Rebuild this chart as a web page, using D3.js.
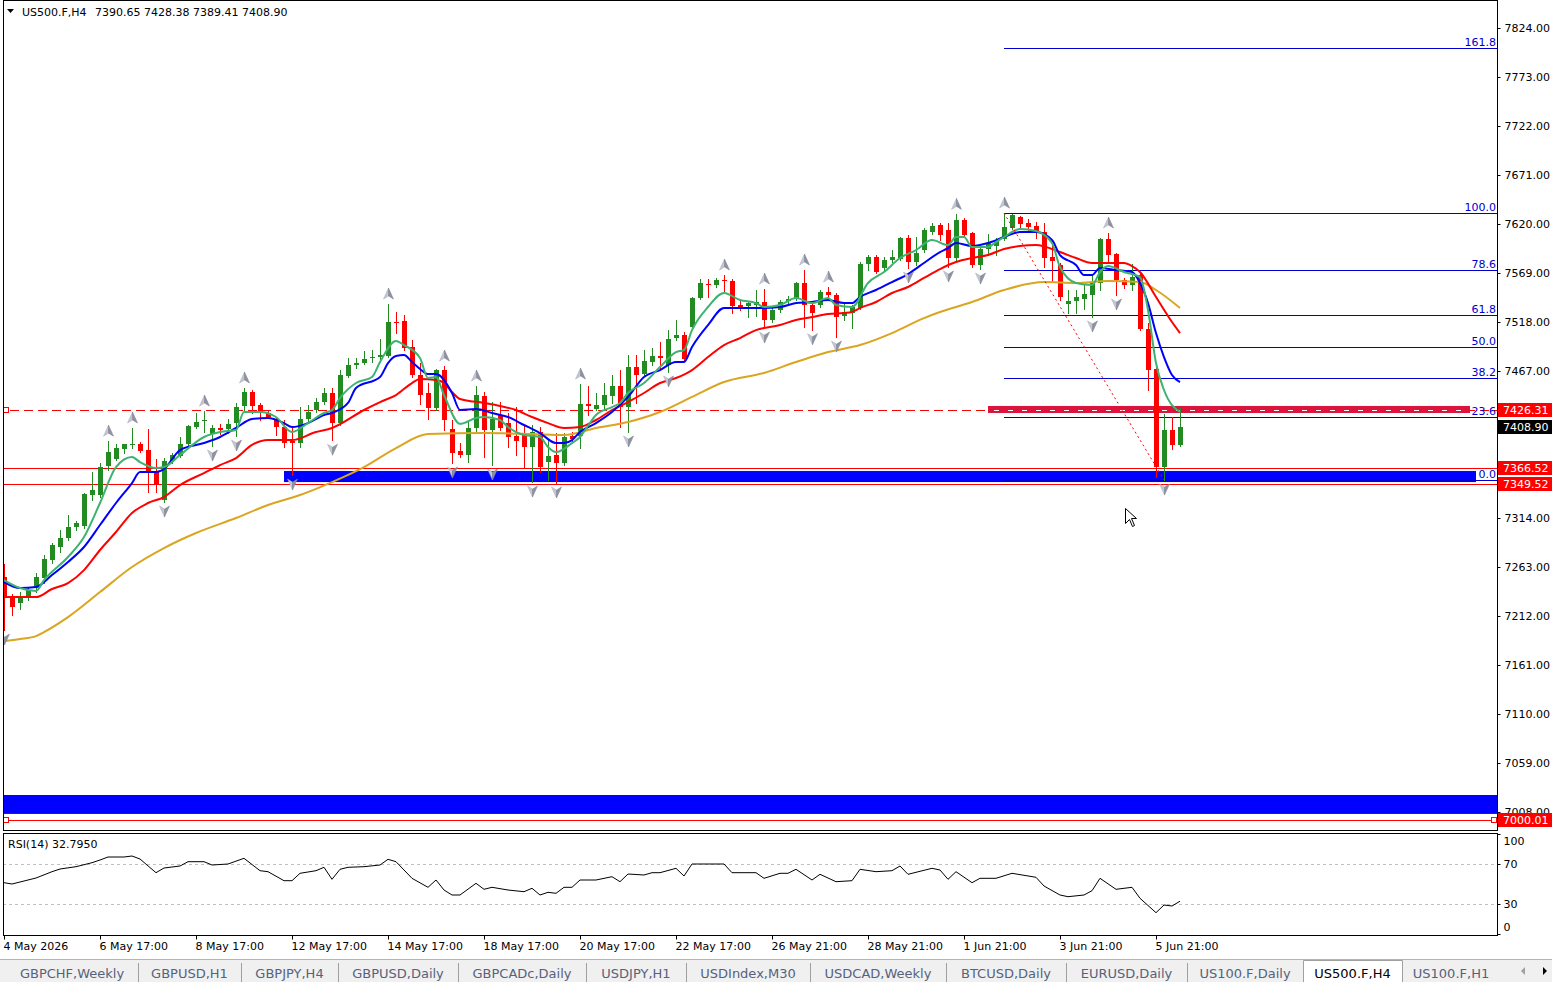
<!DOCTYPE html>
<html>
<head>
<meta charset="UTF-8">
<title>US500.F,H4</title>
<script src="https://d3js.org/d3.v7.min.js"></script>
<style>
    body { margin: 0; background: #fff; overflow: hidden; }
    svg { display: block; font-family: "DejaVu Sans", sans-serif; }
</style>
</head>
<body>
<svg id="chart" width="1552" height="982"></svg>
<script>
// ---- data (H4 bars, 4 May - 5 Jun 2026) ----
var openP = [7252.6,7230.7,7225.5,7230.7,7241.1,7251.5,7270.3,7283.8,7293.2,7304.6,
    7305.7,7337.9,7337.9,7368.1,7375.4,7385.8,7389.9,7391.0,7384.7,7361.8,
    7332.7,7373.3,7378.5,7391.0,7408.7,7414.9,7401.4,7407.7,7406.6,7412.8,
    7430.6,7445.1,7431.6,7423.3,7417.0,7408.7,7394.1,7392.0,7417.0,7426.4,
    7434.7,7444.1,7412.8,7461.8,7473.2,7475.3,7480.5,7481.5,7482.6,7518.0,
    7519.2,7492.0,7462.8,7444.1,7428.5,7468.0,7406.6,7383.7,7379.5,7407.7,
    7440.9,7405.6,7421.2,7412.8,7399.3,7402.4,7387.9,7403.5,7372.2,7379.5,
    7371.2,7399.3,7399.3,7432.6,7427.4,7431.6,7440.9,7451.4,7429.5,7471.1,
    7463.8,7476.3,7482.6,7473.2,7501.3,7504.4,7512.8,7543.0,7557.5,7556.5,
    7561.7,7560.7,7535.6,7534.6,7535.6,7538.8,7520.1,7530.5,7539.8,7541.9,
    7558.6,7535.6,7535.6,7549.2,7546.1,7524.2,7527.4,7532.5,7578.3,7585.6,
    7574.2,7582.5,7583.5,7605.4,7580.4,7592.9,7611.6,7618.9,7613.7,7584.6,
    7624.1,7610.6,7577.3,7594.0,7597.1,7604.4,7615.8,7627.2,7621.0,7617.9,
    7611.6,7585.6,7577.3,7536.7,7539.8,7541.9,7546.1,7558.6,7604.4,7588.7,
    7561.7,7556.5,7566.9,7510.6,7469.1,7367.0,7405.6,7390.65];
var highP = [7266.0,7234.9,7237.0,7242.0,7256.7,7275.5,7288.0,7301.5,7317.1,7310.9,
    7340.0,7361.8,7371.2,7394.0,7391.0,7391.5,7407.7,7393.0,7406.6,7375.4,
    7376.4,7381.6,7398.3,7410.8,7423.3,7425.3,7410.8,7411.8,7417.0,7433.7,
    7449.3,7447.2,7433.7,7426.4,7419.1,7416.0,7407.7,7429.5,7431.6,7438.9,
    7449.3,7449.3,7468.0,7480.5,7480.5,7487.8,7488.8,7500.3,7536.7,7528.4,
    7525.4,7499.2,7475.3,7454.5,7469.1,7472.2,7416.0,7392.0,7416.0,7451.4,
    7445.1,7434.7,7434.7,7423.3,7429.5,7410.8,7410.8,7408.7,7395.1,7402.4,
    7402.4,7403.5,7453.4,7451.4,7444.1,7454.5,7462.8,7468.0,7483.6,7483.6,
    7488.8,7490.9,7497.1,7509.6,7520.1,7507.5,7544.0,7562.7,7562.7,7563.8,
    7566.9,7562.7,7540.9,7538.8,7551.3,7552.3,7533.6,7540.9,7545.0,7559.6,
    7572.1,7537.7,7551.3,7554.4,7548.2,7537.7,7535.6,7580.4,7587.7,7587.7,
    7585.6,7592.9,7606.4,7608.5,7606.4,7615.8,7621.0,7621.0,7621.0,7630.0,
    7626.2,7611.6,7596.0,7609.5,7605.4,7631.4,7630.3,7628.3,7625.2,7622.1,
    7621.0,7601.2,7579.4,7551.3,7551.3,7556.5,7566.9,7605.4,7610.6,7589.8,
    7563.8,7578.3,7569.0,7516.9,7471.1,7422.2,7419.1,7428.38];
var lowP = [7197.4,7213.0,7219.3,7228.6,7237.0,7246.3,7267.0,7278.6,7291.1,7301.5,
    7303.6,7332.7,7335.8,7364.0,7374.0,7381.6,7386.8,7382.6,7341.0,7341.0,
    7330.6,7371.2,7377.4,7387.9,7407.7,7403.5,7388.9,7401.4,7402.4,7399.3,
    7426.4,7423.3,7416.0,7418.1,7400.4,7387.9,7358.7,7387.9,7412.8,7424.3,
    7432.6,7395.0,7410.8,7460.7,7470.1,7474.3,7476.3,7476.3,7481.5,7506.5,
    7488.8,7460.7,7432.6,7417.0,7426.4,7405.6,7371.2,7377.4,7372.2,7403.5,
    7377.4,7369.1,7405.6,7387.9,7379.5,7367.0,7351.4,7361.8,7353.5,7350.4,
    7369.0,7392.0,7386.8,7421.2,7426.4,7426.4,7433.7,7408.7,7403.5,7433.7,
    7462.8,7473.2,7470.1,7466.0,7499.2,7478.4,7512.8,7541.9,7544.0,7554.4,
    7550.2,7527.4,7530.5,7523.3,7524.2,7511.7,7518.0,7528.4,7536.7,7540.9,
    7512.8,7510.0,7533.6,7544.0,7502.3,7520.1,7511.7,7531.5,7572.1,7569.0,
    7572.1,7580.4,7582.5,7574.2,7577.3,7590.8,7609.5,7603.3,7575.2,7582.5,
    7606.4,7575.2,7573.1,7587.7,7587.7,7603.3,7614.8,7616.8,7611.6,7605.4,
    7575.2,7559.6,7540.9,7527.4,7527.4,7531.5,7523.3,7551.3,7580.4,7546.1,
    7553.4,7551.3,7509.8,7447.2,7356.6,7353.5,7385.8,7389.41];
var closeP = [7230.7,7221.3,7232.8,7239.1,7252.6,7271.3,7285.9,7293.2,7304.6,7308.8,
    7339.0,7343.1,7367.0,7382.6,7386.8,7391.0,7391.0,7383.7,7361.8,7349.3,
    7373.3,7379.5,7391.0,7409.7,7413.9,7416.0,7407.7,7405.6,7411.8,7429.5,
    7445.1,7430.6,7423.3,7419.1,7408.7,7392.0,7392.0,7417.0,7424.3,7434.7,
    7444.1,7412.8,7462.8,7473.2,7475.3,7479.4,7481.5,7483.6,7518.0,7516.9,
    7490.9,7462.8,7442.0,7428.5,7468.0,7416.0,7381.6,7379.5,7407.7,7442.0,
    7405.6,7417.0,7407.7,7398.3,7394.1,7387.9,7403.5,7367.0,7378.5,7371.2,
    7398.3,7396.2,7432.6,7430.6,7431.6,7442.0,7451.4,7429.5,7471.1,7462.8,
    7477.4,7482.6,7480.5,7500.3,7504.4,7479.4,7543.0,7558.6,7556.5,7561.7,
    7560.7,7534.6,7533.6,7537.7,7538.8,7520.1,7530.5,7538.8,7541.9,7558.6,
    7535.6,7527.4,7549.2,7546.1,7523.2,7528.4,7533.6,7578.3,7585.6,7570.0,
    7582.5,7585.6,7605.4,7580.4,7589.8,7613.7,7617.9,7608.5,7584.6,7624.1,
    7608.5,7577.3,7594.0,7600.2,7603.3,7616.8,7629.3,7620.0,7616.8,7610.6,
    7584.6,7581.5,7544.0,7539.8,7544.0,7547.1,7558.6,7604.4,7587.7,7561.7,
    7556.5,7564.8,7510.6,7468.0,7367.0,7405.6,7389.9,7408.90];

// moving averages, [bar, price]
var maFast = [[0,7249.4],[2,7241.1],[4,7238.0],[5,7249.4],[8,7273.4],[10,7294.2],[12,7329.6],[14,7367.0],
    [16,7377.4],[17,7372.2],[19,7366.0],[20,7367.0],[22,7379.5],[25,7398.3],[27,7403.5],[29,7405.6],
    [30,7424.3],[32,7424.3],[34,7419.1],[36,7403.5],[38,7412.8],[40,7423.3],[41,7426.4],[42,7438.9],
    [44,7454.5],[46,7460.7],[47,7476.3],[49,7498.2],[50,7494.0],[52,7480.5],[53,7459.7],[54,7460.7],
    [55,7442.0],[57,7412.0],[59,7418.1],[60,7419.1],[62,7416.0],[63,7408.7],[65,7400.4],[67,7398.3],
    [68,7387.9],[69,7382.6],[71,7392.0],[72,7398.3],[73,7410.0],[74,7421.2],[76,7429.5],[77,7433.7],
    [78,7444.1],[80,7454.5],[82,7471.1],[84,7486.7],[85,7488.8],[86,7509.6],[88,7533.6],[90,7548.2],
    [92,7540.9],[94,7537.7],[95,7533.6],[97,7535.7],[99,7542.9],[101,7537.7],[103,7542.9],[104,7535.7],
    [106,7533.6],[108,7558.6],[110,7570.0],[112,7584.6],[114,7592.9],[116,7603.3],[118,7598.1],[119,7606.4],
    [120,7606.4],[121,7596.0],[123,7596.0],[124,7601.2],[125,7606.4],[127,7614.8],[129,7612.7],[131,7600.2],
    [132,7575.2],[134,7558.6],[136,7556.5],[137,7570.0],[138,7576.2],[140,7570.0],[142,7564.8],[143,7530.5],
    [144,7475.3],[145,7447.2],[147,7424.3]];
var maMid = [[0,7247.4],[2,7241.1],[4,7242.2],[6,7254.6],[8,7268.2],[10,7283.8],[12,7306.7],[14,7329.6],
    [16,7350.4],[17,7361.8],[19,7361.8],[20,7365.0],[22,7384.7],[25,7392.0],[27,7398.3],[29,7407.7],
    [31,7417.0],[33,7418.1],[35,7412.8],[36,7408.7],[38,7412.8],[40,7421.2],[41,7423.3],[43,7433.7],
    [44,7449.3],[47,7460.7],[48,7475.3],[49,7482.6],[50,7483.6],[51,7476.3],[52,7469.1],[53,7463.8],
    [54,7463.8],[56,7444.1],[57,7426.4],[59,7427.4],[61,7423.3],[63,7419.1],[65,7410.8],[67,7402.4],
    [69,7392.0],[70,7392.0],[71,7395.1],[72,7403.5],[74,7412.8],[76,7424.3],[78,7440.0],[80,7460.7],
    [82,7468.0],[84,7476.3],[85,7476.3],[86,7492.0],[88,7514.8],[90,7532.5],[92,7532.5],[94,7532.5],
    [97,7533.6],[99,7537.7],[101,7538.8],[103,7540.9],[105,7537.7],[106,7537.7],[107,7544.0],[109,7551.3],
    [111,7559.6],[113,7567.9],[115,7579.4],[117,7590.8],[118,7595.0],[119,7600.2],[121,7597.1],[123,7600.2],
    [125,7606.4],[127,7611.6],[129,7611.6],[131,7603.3],[132,7587.7],[134,7577.3],[135,7566.9],[136,7566.9],
    [137,7574.2],[139,7572.1],[141,7570.0],[142,7558.6],[143,7537.7],[144,7506.5],[145,7481.5],[146,7462.8],
    [147,7455.5]];
var maSlow = [[0,7231.7],[4,7231.7],[6,7240.1],[8,7246.3],[10,7259.8],[12,7280.7],[14,7299.4],[16,7319.2],
    [18,7329.6],[20,7335.8],[22,7348.3],[25,7360.8],[27,7369.1],[29,7376.4],[31,7390.0],[33,7395.1],
    [36,7395.1],[39,7403.5],[41,7407.7],[45,7426.4],[47,7434.7],[49,7442.0],[51,7454.5],[52,7458.6],
    [54,7457.6],[55,7454.5],[56,7445.1],[57,7437.8],[60,7433.7],[62,7430.6],[64,7426.4],[66,7419.1],
    [68,7412.8],[70,7407.7],[72,7408.7],[74,7416.0],[76,7426.4],[78,7434.7],[80,7444.1],[82,7454.5],
    [84,7459.7],[86,7468.0],[88,7481.5],[90,7494.0],[92,7501.3],[94,7509.6],[97,7514.8],[99,7520.1],
    [101,7523.2],[103,7526.3],[105,7527.4],[106,7528.4],[107,7532.5],[109,7538.8],[111,7548.2],[113,7554.4],
    [115,7563.8],[117,7573.1],[119,7580.4],[121,7584.6],[123,7587.7],[125,7593.9],[127,7597.1],[129,7598.1],
    [132,7590.8],[134,7584.6],[136,7579.4],[138,7579.4],[140,7579.4],[141,7576.2],[142,7570.0],[144,7544.0],
    [146,7518.0],[147,7506.5]];
var maLong = [[0,7185.9],[2,7188.0],[4,7191.1],[5,7195.3],[8,7210.9],[12,7236.9],[16,7263.0],[20,7282.7],
    [24,7298.4],[29,7314.0],[33,7327.5],[37,7337.9],[41,7351.4],[45,7367.0],[49,7386.8],[53,7401.4],
    [60,7402.4],[66,7401.4],[70,7400.4],[74,7407.7],[78,7413.9],[82,7424.3],[86,7440.0],[90,7455.5],
    [95,7464.9],[99,7476.3],[103,7486.7],[107,7494.0],[111,7506.5],[115,7522.1],[117,7528.4],[121,7538.8],
    [125,7551.3],[130,7559.6],[134,7558.6],[138,7560.7],[142,7559.6],[144,7551.3],[147,7532.5]];

// RSI(14), [bar, value]
var rsiVals = [[0,51.3],[1,50],[4,56],[6,62.3],[7,65],[9,67.3],[11,71.3],[12,74],[13,77],[15,77],[16,78],
    [17,75],[19,61.3],[20,66],[22,68],[23,72.3],[25,72.3],[26,69],[28,70],[30,75.7],[32,63.3],[33,62.3],
    [35,53.3],[36,53.3],[37,60.7],[39,63.3],[40,66.7],[41,54.7],[42,64.7],[43,66.7],[45,67.3],[47,69],
    [48,74.7],[49,72.3],[51,55.7],[53,46.7],[54,54],[55,44],[56,39],[57,39],[59,50.7],[60,44.7],[61,46.7],
    [63,44],[65,42.3],[66,45.7],[67,39],[68,41.7],[69,40.7],[70,46.7],[71,46.7],[72,54],[74,54],[76,57.3],
    [77,52.3],[78,60],[80,59],[81,61.3],[82,61.3],[84,65.7],[85,58],[86,70],[90,70],[91,61.3],[94,61.3],
    [95,55.7],[97,60.7],[98,60.7],[99,64.7],[101,54],[102,59.7],[104,52.3],[106,53.3],[107,64.7],[109,62.3],
    [111,63.3],[112,68],[113,59.7],[116,65.7],[117,64],[118,54.7],[119,62.3],[121,51.3],[122,55.7],[124,55.7],
    [126,60.7],[129,56.7],[130,48],[132,39],[133,37.3],[135,39],[136,43.3],[137,55.7],[139,44.7],[141,46.7],
    [142,35.7],[144,21.3],[145,29],[146,28],[147,32.795]];
var rsiLast = 32.7950;

// fractal bars
var fractalUp = [13,16,25,30,48,55,59,72,90,95,100,103,119,125,138];
var fractalDown = [0,20,26,29,36,41,56,61,66,69,78,83,95,101,104,113,118,122,136,139,145];

// fibonacci retracement
var fibHigh = 7631.4, fibLow = 7353.6, fibBars = [125, 145];
var fibLevels = [0, 23.6, 38.2, 50, 61.8, 78.6, 100, 161.8];

// horizontal objects
var dashLevel = 7426.31;
var redLevels = [7366.52, 7349.52];
var bottomLevel = 7000.01;
var supportZone = [7351.4, 7362.9], supportBars = [35, 184];
var resistBand = [7423.3, 7430.6], resistBars = [123, 183.25];
var deepZone = [7006.0, 7025.7];
var lastClose = 7408.90;

var priceTicks = [7008,7059,7110,7161,7212,7263,7314,7467,7518,7569,7620,7671,7722,7773,7824];
var timeLabels = ["4 May 2026","6 May 17:00","8 May 17:00","12 May 17:00","14 May 17:00","18 May 17:00",
    "20 May 17:00","22 May 17:00","26 May 21:00","28 May 21:00","1 Jun 21:00","3 Jun 21:00","5 Jun 21:00"];
var timeBars = [0,12,24,36,48,60,72,84,96,108,120,132,144];
var tabLabels = ["GBPCHF,Weekly","GBPUSD,H1","GBPJPY,H4","GBPUSD,Daily","GBPCADc,Daily","USDJPY,H1",
    "USDIndex,M30","USDCAD,Weekly","BTCUSD,Daily","EURUSD,Daily","US100.F,Daily","US500.F,H4","US100.F,H1"];
var tabEdges = [6,138,241,338,458,586,686,810,946,1066,1187,1303,1402,1500];
var activeTab = "US500.F,H4";

// ---- layout ----
var svg = d3.select("#chart");
var plotL = 3, plotR = 1497, mainB = 830, rsiT = 833, rsiB = 935;

var x = d3.scaleLinear().domain([0, 147]).range([4, 1180]);
var y = d3.scaleLinear().domain([7008, 7824]).range([812, 28]);
var yr = d3.scaleLinear().domain([0, 100]).range([934, 834]);

var UP = "#228B22", DOWN = "#FF0000", FIB = "#0000CD";

svg.append("rect").attr("width", 1552).attr("height", 982).attr("fill", "#fff");

var defs = svg.append("defs");
defs.append("clipPath").attr("id", "clipMain").append("rect")
    .attr("x", plotL + 1).attr("y", 1).attr("width", plotR - plotL - 1).attr("height", mainB - 1);
defs.append("clipPath").attr("id", "clipRsi").append("rect")
    .attr("x", plotL + 1).attr("y", rsiT + 1).attr("width", plotR - plotL - 1).attr("height", rsiB - rsiT - 1);

var gMain = svg.append("g").attr("clip-path", "url(#clipMain)");

// zones and levels (background objects)
gMain.append("rect")
    .attr("x", plotL).attr("width", plotR - plotL)
    .attr("y", y(deepZone[1])).attr("height", y(deepZone[0]) - y(deepZone[1]))
    .attr("fill", "#0000FF");

gMain.append("rect")
    .attr("x", x(supportBars[0])).attr("width", x(supportBars[1]) - x(supportBars[0]))
    .attr("y", y(supportZone[1])).attr("height", y(supportZone[0]) - y(supportZone[1]))
    .attr("fill", "#0000FF");

gMain.selectAll("line.redlvl")
    .data(redLevels.concat([bottomLevel]))
    .enter().append("line")
    .attr("class", "redlvl")
    .attr("x1", plotL).attr("x2", plotR)
    .attr("y1", function(d) { return Math.round(y(d)) + 0.5; })
    .attr("y2", function(d) { return Math.round(y(d)) + 0.5; })
    .attr("stroke", "#FF0000").attr("stroke-width", 1);

var yDash = Math.round(y(dashLevel)) + 0.5;
gMain.append("line")
    .attr("x1", 10).attr("x2", plotR).attr("y1", yDash).attr("y2", yDash)
    .attr("stroke", "#FF0000").attr("stroke-width", 1).attr("stroke-dasharray", "9,5");

gMain.append("rect")
    .attr("x", x(resistBars[0])).attr("width", x(resistBars[1]) - x(resistBars[0]))
    .attr("y", y(resistBand[1])).attr("height", y(resistBand[0]) - y(resistBand[1]))
    .attr("fill", "#DC143C");
gMain.append("line")
    .attr("x1", x(resistBars[0]) + 6).attr("x2", x(resistBars[1]) - 4).attr("y1", yDash).attr("y2", yDash)
    .attr("stroke", "#fff").attr("stroke-width", 1).attr("stroke-dasharray", "5,9");

// small anchor squares
[[6, yDash], [6, Math.round(y(bottomLevel)) + 0.5], [1494, Math.round(y(bottomLevel)) + 0.5]].forEach(function(p) {
    gMain.append("rect").attr("x", p[0] - 2.5).attr("y", p[1] - 3)
        .attr("width", 5).attr("height", 5)
        .attr("fill", "#fff").attr("stroke", "#FF0000").attr("stroke-width", 1);
});

// fibonacci lines
var fibRange = fibHigh - fibLow;
gMain.selectAll("line.fib")
    .data(fibLevels)
    .enter().append("line")
    .attr("class", "fib")
    .attr("x1", x(fibBars[0])).attr("x2", plotR)
    .attr("y1", function(d) { return Math.round(y(fibLow + fibRange * d / 100)) + 0.5; })
    .attr("y2", function(d) { return Math.round(y(fibLow + fibRange * d / 100)) + 0.5; })
    .attr("stroke", FIB).attr("stroke-width", 1);

// candles
var bars = d3.range(openP.length);
var candle = gMain.selectAll("g.candle")
    .data(bars)
    .enter().append("g")
    .attr("class", "candle")
    .attr("shape-rendering", "crispEdges");

candle.append("line")
    .attr("x1", function(i) { return Math.round(x(i)) + 0.5; })
    .attr("x2", function(i) { return Math.round(x(i)) + 0.5; })
    .attr("y1", function(i) { return Math.round(y(highP[i])); })
    .attr("y2", function(i) { return Math.round(y(lowP[i])) + 1; })
    .attr("stroke", function(i) { return closeP[i] >= openP[i] ? UP : DOWN; });

candle.append("rect")
    .attr("x", function(i) { return Math.round(x(i)) - 2; })
    .attr("width", 5)
    .attr("y", function(i) { return Math.round(y(Math.max(openP[i], closeP[i]))); })
    .attr("height", function(i) {
        return Math.max(1, Math.round(Math.abs(y(openP[i]) - y(closeP[i]))));
    })
    .attr("fill", function(i) { return closeP[i] >= openP[i] ? UP : DOWN; });

// moving averages
var maLine = d3.line()
    .x(function(d) { return x(d[0]); })
    .y(function(d) { return y(d[1]); })
    .curve(d3.curveMonotoneX);

[[maLong, "#DAA520"], [maSlow, "#FF0000"], [maMid, "#0000FF"], [maFast, "#3CB371"]].forEach(function(m) {
    gMain.append("path")
        .datum(m[0])
        .attr("d", maLine)
        .attr("fill", "none")
        .attr("stroke", m[1])
        .attr("stroke-width", 2)
        .attr("stroke-linejoin", "round");
});

// fib trend line (dotted)
gMain.append("line")
    .attr("x1", x(fibBars[0])).attr("y1", y(fibHigh))
    .attr("x2", x(fibBars[1])).attr("y2", y(fibLow))
    .attr("stroke", "#FF0000").attr("stroke-width", 1).attr("stroke-dasharray", "2,3");

// fractal arrows
function drawArrow(g, cx, cy, up) {
    var s = up ? 1 : -1;
    g.append("path")
        .attr("d", "M" + cx + "," + (cy - 6 * s) + "L" + (cx - 5) + "," + (cy + 5 * s) + "L" + cx + "," + (cy + 2 * s) + "Z")
        .attr("fill", "#c4c7d2").attr("stroke", "#a4a8b6").attr("stroke-width", 0.5);
    g.append("path")
        .attr("d", "M" + cx + "," + (cy - 6 * s) + "L" + (cx + 5) + "," + (cy + 5 * s) + "L" + cx + "," + (cy + 2 * s) + "Z")
        .attr("fill", "#8d91a0").attr("stroke", "#7d8190").attr("stroke-width", 0.5);
}
fractalUp.forEach(function(i) { drawArrow(gMain, Math.round(x(i)) + 0.5, y(highP[i]) - 10, true); });
fractalDown.forEach(function(i) { drawArrow(gMain, Math.round(x(i)) + 0.5, y(lowP[i]) + 9, false); });

// fib labels
svg.selectAll("text.fib")
    .data(fibLevels)
    .enter().append("text")
    .attr("class", "fib")
    .attr("x", 1496)
    .attr("y", function(d) { return Math.round(y(fibLow + fibRange * d / 100)) - 2; })
    .attr("text-anchor", "end")
    .attr("font-size", 11)
    .attr("fill", FIB)
    .text(function(d) { return d.toFixed(1); });

// mouse cursor
svg.append("path")
    .attr("transform", "translate(1125.5,508.5)")
    .attr("d", "M0,0L0,15L4,11L7,18L9,17L6,10L11,10Z")
    .attr("fill", "#fff").attr("stroke", "#000").attr("stroke-width", 1);

// ---- frames ----
svg.append("rect").attr("x", plotL + 0.5).attr("y", 0.5)
    .attr("width", plotR - plotL).attr("height", mainB)
    .attr("fill", "none").attr("stroke", "#000");
svg.append("rect").attr("x", plotL + 0.5).attr("y", rsiT + 0.5)
    .attr("width", plotR - plotL).attr("height", rsiB - rsiT)
    .attr("fill", "none").attr("stroke", "#000");

// header
svg.append("path").attr("d", "M7,9L14,9L10.5,13Z").attr("fill", "#000");
svg.append("text").attr("x", 22).attr("y", 16).attr("font-size", 11).text("US500.F,H4");
svg.append("text").attr("x", 95).attr("y", 16).attr("font-size", 11)
    .text([openP[147], highP[147], lowP[147], closeP[147]].map(function(v) { return v.toFixed(2); }).join(" "));

// price axis
var yAxis = d3.axisRight(y)
    .tickValues(priceTicks)
    .tickSize(3)
    .tickPadding(4)
    .tickFormat(d3.format(".2f"));
var gy = svg.append("g").attr("transform", "translate(" + (plotR + 0.5) + ",0)").call(yAxis);
gy.select(".domain").remove();
gy.attr("font-family", "DejaVu Sans").attr("font-size", 11);
gy.selectAll("text").attr("fill", "#000");

// price label boxes
function priceBox(v, bg) {
    var yy = Math.round(y(v));
    svg.append("rect").attr("x", plotR + 1).attr("y", yy - 7).attr("width", 1552 - plotR - 1).attr("height", 14).attr("fill", bg);
    svg.append("text").attr("x", 1503).attr("y", yy + 4).attr("font-size", 11).attr("fill", "#fff").text(v.toFixed(2));
}
priceBox(dashLevel, "#FF0000");
priceBox(lastClose, "#000");
priceBox(redLevels[0], "#FF0000");
priceBox(redLevels[1], "#FF0000");
priceBox(bottomLevel, "#FF0000");

// ---- RSI panel ----
var gRsi = svg.append("g").attr("clip-path", "url(#clipRsi)");
[70, 30].forEach(function(v) {
    gRsi.append("line")
        .attr("x1", plotL).attr("x2", plotR)
        .attr("y1", Math.round(yr(v)) + 0.5).attr("y2", Math.round(yr(v)) + 0.5)
        .attr("stroke", "#c0c0c0").attr("stroke-dasharray", "3,3");
});
gRsi.append("path")
    .datum(rsiVals)
    .attr("d", d3.line().x(function(d) { return x(d[0]); }).y(function(d) { return yr(d[1]); }))
    .attr("fill", "none").attr("stroke", "#000").attr("stroke-width", 1);

svg.append("text").attr("x", 8).attr("y", 848).attr("font-size", 11).text("RSI(14) " + rsiLast.toFixed(4));

var gr = svg.append("g").attr("transform", "translate(" + (plotR + 0.5) + ",0)")
    .call(d3.axisRight(yr).tickValues([100, 70, 30, 0]).tickSize(3).tickPadding(3));
gr.select(".domain").remove();
gr.attr("font-family", "DejaVu Sans").attr("font-size", 11);
gr.selectAll("text").attr("fill", "#000")
    .attr("dy", function(d) { return d === 100 ? "0.95em" : (d === 0 ? "-0.3em" : "0.32em"); });

// time axis
var gx = svg.append("g").attr("transform", "translate(0," + (rsiB + 0.5) + ")")
    .call(d3.axisBottom(x)
        .tickValues(timeBars).tickSize(4).tickPadding(3)
        .tickFormat(function(d, k) { return timeLabels[k]; }));
gx.select(".domain").remove();
gx.attr("font-family", "DejaVu Sans").attr("font-size", 11);
gx.selectAll("text").attr("text-anchor", "start").attr("x", -1).attr("fill", "#000");

// ---- symbol tabs ----
svg.append("rect").attr("x", 0).attr("y", 959).attr("width", 1552).attr("height", 23).attr("fill", "#F0F0F0");
svg.append("line").attr("x1", 0).attr("x2", 1552).attr("y1", 959.5).attr("y2", 959.5).attr("stroke", "#b4b4b4");
tabLabels.forEach(function(t, k) {
    var a = tabEdges[k], b = tabEdges[k + 1];
    if (t === activeTab) {
        svg.append("path")
            .attr("d", "M" + (a + 0.5) + ",982V960.5H" + (b + 0.5) + "V982")
            .attr("fill", "#fff").attr("stroke", "#a0a0a0");
    } else if (k < tabLabels.length - 1 && tabLabels[k + 1] !== activeTab) {
        svg.append("line").attr("x1", b + 0.5).attr("x2", b + 0.5).attr("y1", 963).attr("y2", 982).attr("stroke", "#a0a0a0");
    }
    svg.append("text")
        .attr("x", (a + b) / 2).attr("y", 978)
        .attr("text-anchor", "middle").attr("font-size", 13)
        .attr("fill", t === activeTab ? "#000" : "#56627c")
        .text(t);
});
svg.append("path").attr("d", "M1525,967L1521,971L1525,975Z").attr("fill", "#a0a0a0");
svg.append("path").attr("d", "M1543,967L1547,971L1543,975Z").attr("fill", "#000");
</script>
</body>
</html>
